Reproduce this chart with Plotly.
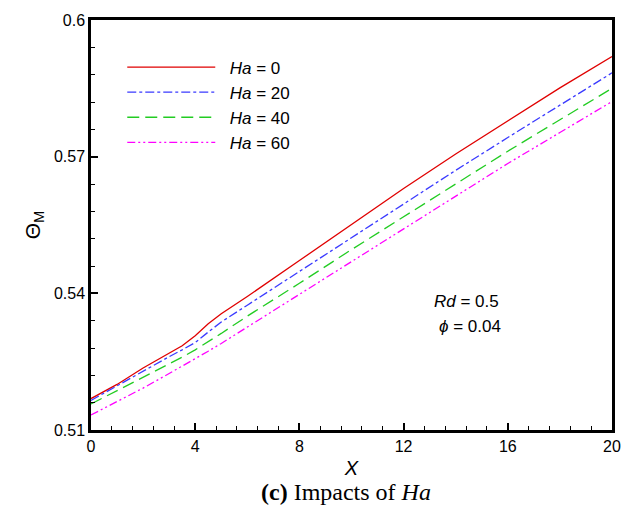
import plotly.graph_objects as go

x_vals = [0, 1, 2, 3, 3.5, 4, 4.5, 5, 6, 8, 10, 12, 14, 16, 18, 20]
ha0 = [0.5169, 0.5200, 0.5236, 0.5268, 0.5285, 0.5307, 0.5333, 0.5355, 0.5393, 0.5472, 0.5552, 0.5630, 0.5706, 0.5779, 0.5851, 0.5920]
ha20 = [0.5165, 0.5197, 0.5230, 0.5261, 0.5276, 0.5292, 0.5315, 0.5337, 0.5374, 0.5448, 0.5523, 0.5597, 0.5670, 0.5742, 0.5813, 0.5884]
ha40 = [0.5157, 0.5186, 0.5216, 0.5245, 0.5260, 0.5276, 0.5294, 0.5312, 0.5350, 0.5422, 0.5496, 0.5568, 0.5640, 0.5712, 0.5781, 0.5850]
ha60 = [0.5133, 0.5162, 0.5192, 0.5224, 0.5240, 0.5256, 0.5273, 0.5290, 0.5326, 0.5398, 0.5470, 0.5542, 0.5613, 0.5685, 0.5753, 0.5821]

names = ["\u00a0\u00a0<i>Ha</i> = 0", "\u00a0\u00a0<i>Ha</i> = 20", "\u00a0\u00a0<i>Ha</i> = 40", "\u00a0\u00a0<i>Ha</i> = 60"]
colors = ["#e00000", "#3a3aff", "#22cc22", "#ff00ff"]
dashes = ["solid", "dashdot", "12px,6px", "8px,3px,2px,3px,2px,3px"]

fig = go.Figure()
for ys, nm, c, d in zip([ha0, ha20, ha40, ha60], names, colors, dashes):
    fig.add_trace(go.Scatter(x=x_vals, y=ys, mode="lines", name=nm,
                             line=dict(color=c, width=1.3, dash=d)))

axis_common = dict(showgrid=False, zeroline=False, showline=True, linecolor="black",
                   linewidth=2.5, mirror=True, ticks="inside", ticklen=7, tickwidth=1.5,
                   tickcolor="black", tickfont=dict(family="Liberation Sans, Arial", size=16, color="black"))

fig.update_xaxes(range=[0, 20], tickvals=[0, 4, 8, 12, 16, 20],
                 minor=dict(dtick=0.8, tick0=0, ticks="inside", ticklen=4, tickwidth=1, tickcolor="black"),
                 title=dict(text="<i>X</i>", font=dict(family="Liberation Sans, Arial", size=20, color="black"), standoff=8),
                 **axis_common)
fig.update_yaxes(range=[0.51, 0.6], tickvals=[0.51, 0.54, 0.57, 0.6], ticktext=["0.51", "0.54", "0.57", "0.6"],
                 minor=dict(dtick=0.006, tick0=0.51, ticks="inside", ticklen=4, tickwidth=1, tickcolor="black"),
                 title=dict(text="Θ<sub>M</sub>", font=dict(family="Liberation Sans, Arial", size=21, color="black"), standoff=8),
                 **axis_common)

fig.update_layout(
    width=635, height=515,
    margin=dict(l=91, r=23, t=16, b=85),
    plot_bgcolor="white", paper_bgcolor="white",
    font=dict(family="Liberation Sans, Arial", size=16, color="black"),
    legend=dict(x=0.06, y=0.928, xanchor="left", yanchor="top", bgcolor="rgba(0,0,0,0)",
                itemwidth=88, tracegroupgap=0, font=dict(size=17)),
    annotations=[
        dict(text="<i>Rd</i> = 0.5", x=0.72, y=0.314, xref="paper", yref="paper",
             showarrow=False, xanchor="center", yanchor="middle", font=dict(size=17)),
        dict(text="<i>\u03d5</i> = 0.04", x=0.727, y=0.253, xref="paper", yref="paper",
             showarrow=False, xanchor="center", yanchor="middle", font=dict(size=17)),
        dict(text="<b>(c)</b> Impacts of <i>Ha</i>", x=0.49, y=-0.152, xref="paper", yref="paper",
             showarrow=False, xanchor="center", yanchor="middle",
             font=dict(family="Liberation Serif, Times New Roman", size=24)),
    ],
)

fig.write_html("out.html")
